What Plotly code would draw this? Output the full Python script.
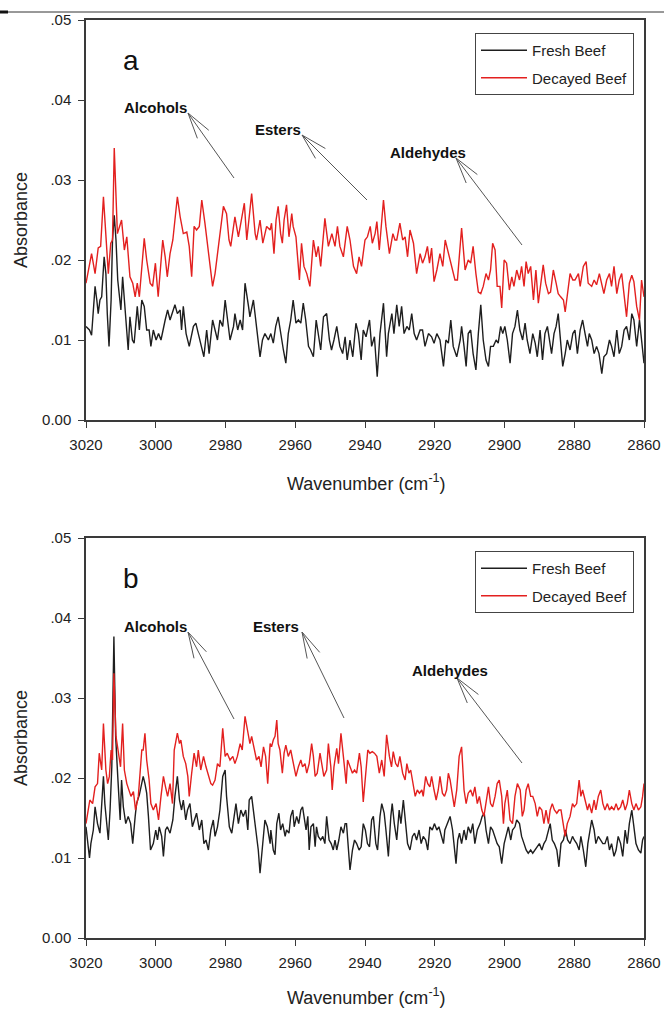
import math
import plotly.graph_objects as go

# ---------------- data ----------------
# Panel a : fresh beef
a_fresh_wn = [
    3020.0, 3019.0, 3018.4, 3017.9, 3017.4, 3016.9, 3016.5, 3016.0, 3015.5, 3014.8,
    3014.3, 3013.9, 3013.4, 3012.8, 3012.4, 3011.9, 3011.4, 3010.9, 3010.2, 3010.0,
    3009.5, 3009.0, 3008.3, 3007.9, 3007.4, 3006.7, 3006.2, 3005.3, 3004.7, 3004.0,
    3003.3, 3002.6, 3001.9, 3001.4, 3000.7, 2999.9, 2999.2, 2998.5, 2997.3, 2996.6,
    2995.9, 2994.5, 2993.8, 2993.0, 2992.6, 2992.1, 2991.3, 2990.4, 2989.2, 2988.5,
    2987.8, 2986.8, 2986.2, 2985.4, 2984.7, 2983.7, 2983.0, 2982.3, 2981.6, 2980.8,
    2980.1, 2979.2, 2978.7, 2977.7, 2977.3, 2976.5, 2975.8, 2975.1, 2974.4, 2973.4,
    2973.0, 2972.0, 2971.1, 2970.1, 2969.4, 2968.7, 2967.7,
    2967.0, 2966.3, 2965.6, 2964.9, 2964.2, 2963.4, 2962.7, 2962.0, 2961.3, 2960.6,
    2959.8, 2959.1, 2958.4, 2957.7, 2957.0, 2956.2, 2955.6, 2954.8, 2954.0, 2953.4,
    2952.7, 2951.9, 2951.0, 2950.2, 2949.6, 2948.9, 2948.1, 2947.2, 2946.4, 2945.7,
    2945.1, 2944.3, 2943.5, 2942.6, 2941.9, 2941.1, 2940.5, 2939.7, 2938.7, 2938.1,
    2937.3, 2936.5, 2935.7, 2934.7, 2933.8, 2933.3, 2932.3, 2931.7, 2930.9, 2930.2,
    2929.5, 2928.8, 2928.0, 2927.3, 2926.6, 2925.9, 2925.2, 2924.2, 2923.5, 2922.8,
    2921.8, 2920.9, 2920.2, 2919.4, 2918.5, 2917.5, 2916.8, 2916.1, 2915.4, 2914.7,
    2913.7, 2912.7,
    2912.3, 2911.6, 2911.0, 2910.4, 2909.7, 2909.0, 2908.2, 2907.5, 2906.8, 2906.1,
    2905.3, 2904.6, 2904.0, 2903.2, 2902.4, 2901.8, 2901.1, 2900.5, 2899.9, 2899.2,
    2898.4, 2897.7, 2897.0, 2896.3, 2895.6, 2894.8, 2894.1, 2893.5, 2892.7, 2891.9,
    2891.2, 2890.6, 2889.8, 2889.1, 2888.4, 2887.7, 2887.1, 2886.5, 2885.8, 2885.2,
    2884.6, 2883.9, 2883.3, 2882.6, 2882.0, 2881.2, 2880.4, 2879.8, 2879.1, 2878.3,
    2877.6, 2876.9, 2876.2, 2875.7, 2875.0, 2874.3, 2873.6, 2872.9, 2872.1, 2871.5,
    2870.7, 2869.9, 2869.3, 2868.6, 2867.8, 2867.1, 2866.4, 2865.7, 2865.0, 2864.2,
    2863.5, 2862.9, 2862.1, 2861.3, 2860.7, 2860.0,
]
a_fresh_abs = [
    .0117, .01125, .0106, .0142, .0167, .0150, .0133, .0150, .0154, .0204,
    .0183, .0133, .0092, .0150, .0225, .0256, .0225, .0175, .0142, .01375,
    .0179, .0150, .0108, .00875, .0129, .0100, .0096, .0142, .01125, .0150,
    .0142, .01125, .01125, .0092, .01125, .0100, .0108, .0100, .0125, .01375,
    .0125, .0144, .0133, .01375, .01125, .0142, .0108, .0092, .0117, .0121,
    .0108, .0092, .0079, .01125, .0083, .0125, .01125, .0100, .0125, .0117,
    .0150, .0117, .0100, .0117, .0133, .01125, .0125, .01125, .0171, .0142,
    .0129, .0150, .01125, .0079, .0100, .0108, .0100,
    .0108, .0096, .0117, .0129, .0108, .00875, .0071, .0108, .0125, .0150,
    .0121, .0125, .0121, .0146, .0125, .0092, .00875, .0079, .0125, .0108,
    .00875, .0129, .0133, .0100, .00875, .0100, .0117, .0092, .0083, .0104,
    .0075, .0100, .0079, .0121, .0108, .0075, .01125, .0104, .0125, .0092,
    .0104, .0054, .0108, .0146, .0079, .0108, .0133, .0108, .0144, .0117,
    .0142, .0108, .0117, .01125, .0133, .0108, .0100, .01125, .01125, .0092,
    .0108, .0104, .0096, .0108, .0100, .0067, .0100, .0096, .0125, .0092,
    .0079, .0100,
    .0117, .0092, .0067, .0108, .01125, .0083, .00625, .0108, .0144, .0100,
    .0075, .0067, .0092, .0092, .0100, .0096, .0117, .0108, .0117, .0100,
    .0071, .0108, .0117, .01375, .01125, .0100, .0121, .0100, .0083, .0108,
    .0096, .0079, .01125, .0075, .0108, .0117, .0100, .0083, .0108, .0117,
    .0133, .0100, .0067, .0083, .0100, .00875, .0108, .01125, .0083, .01125,
    .0125, .0108, .0092, .0108, .0100, .0083, .0092, .0083, .0058, .0079,
    .0083, .0100, .0092, .0079, .01125, .0083, .0092, .01125, .0117, .0100,
    .0133, .0125, .0092, .0125, .0100, .0071,
]

# Panel a : decayed beef
a_decay_wn = [
    3020.0, 3018.4, 3017.4, 3016.5, 3015.8, 3015.0, 3013.6, 3012.9, 3012.4, 3011.9,
    3011.0, 3009.8, 3009.0, 3008.3, 3007.4, 3006.6, 3005.9, 3005.3, 3004.7, 3004.0,
    3003.3, 3002.6, 3001.6, 3000.9, 3000.1, 2999.3, 2998.0, 2997.3, 2996.7, 2995.9,
    2995.1, 2993.8, 2993.0, 2992.1, 2991.1, 2990.4, 2989.7, 2989.0, 2988.3, 2987.5,
    2986.8, 2985.9, 2984.9, 2984.1, 2983.7, 2983.0, 2981.8, 2980.6, 2979.7, 2979.0,
    2978.5, 2977.3, 2976.3, 2974.6, 2973.9, 2972.5, 2971.5, 2971.1, 2970.1, 2969.3,
    2968.2, 2967.2,
    2966.8, 2966.1, 2965.5, 2964.9, 2964.2, 2963.7, 2963.2, 2962.5, 2961.8, 2961.0,
    2960.6, 2959.8, 2958.8, 2958.2, 2957.5, 2956.7, 2955.8, 2954.8, 2954.0, 2953.4,
    2952.7, 2951.5, 2950.5, 2949.5, 2948.6, 2947.9, 2947.2, 2946.2, 2945.1, 2944.3,
    2943.3, 2942.4, 2941.7, 2941.0, 2940.0, 2939.3, 2938.5, 2937.9, 2937.1, 2936.6,
    2935.9, 2934.7, 2934.0, 2933.0, 2932.0, 2931.4, 2930.9, 2930.0, 2929.2, 2928.5,
    2927.8, 2927.1, 2926.1, 2925.2, 2924.2, 2923.5, 2922.8, 2922.1, 2921.5, 2920.9,
    2920.2, 2919.4, 2918.5, 2917.7, 2917.0, 2916.1, 2915.1, 2914.2, 2913.5,
    2912.3, 2911.3, 2910.4, 2909.7, 2909.0, 2908.2, 2907.5, 2906.8, 2906.1, 2905.3,
    2904.6, 2904.0, 2903.4, 2902.7, 2902.1, 2901.3, 2900.8, 2900.1, 2899.4, 2898.6,
    2897.9, 2897.3, 2896.5, 2895.7, 2895.1, 2894.4, 2893.8, 2893.2, 2892.5, 2891.7,
    2891.0, 2890.3, 2889.6, 2888.9, 2888.2, 2887.4, 2886.8, 2886.0, 2885.2, 2884.6,
    2883.9, 2883.1, 2882.6, 2882.0, 2881.2, 2880.4, 2879.8, 2878.8, 2878.3, 2877.4,
    2876.6, 2876.0, 2875.0, 2874.3, 2873.6, 2872.8, 2872.1, 2871.5, 2870.7, 2869.9,
    2869.3, 2868.6, 2867.8, 2867.1, 2866.4, 2865.7, 2865.0, 2864.2, 2863.5, 2862.9,
    2862.1, 2861.3, 2860.7, 2860.0,
]
a_decay_abs = [
    .0171, .0208, .0183, .0215, .0217, .0279, .0183, .0221, .0225, .0340,
    .0233, .0250, .02125, .0229, .0179, .0171, .0154, .0171, .0154, .01875,
    .0227, .0200, .0171, .0167, .0196, .0154, .0225, .0204, .0179, .0208,
    .0225, .0279, .0254, .0233, .0235, .0217, .0179, .0242, .02375, .0242,
    .0275, .0246, .0208, .0183, .0167, .0183, .0225, .0267, .0258, .0225,
    .0217, .0254, .0229, .0271, .0225, .0283, .0233, .0225, .0250, .0221,
    .0242, .02375,
    .0246, .0208, .0250, .0267, .0233, .0221, .0250, .0269, .0229, .0258,
    .0242, .0229, .0175, .0221, .0192, .0183, .0167, .0225, .0204, .0217,
    .0192, .0252, .0217, .0233, .0217, .0242, .0217, .0204, .0242, .0225,
    .0192, .0183, .0204, .0192, .0225, .0229, .0242, .0221, .0233, .0248,
    .02125, .0275, .0242, .0208, .0233, .0225, .0225, .0246, .0225, .0229,
    .0204, .02375, .0221, .0183, .0208, .0196, .0204, .0217, .0196, .0215,
    .0173, .01875, .0208, .0192, .0225, .0208, .0192, .0175, .0175,
    .0240, .01875, .0200, .0196, .0217, .0183, .0160, .0158, .0167, .0183,
    .0175, .01875, .0221, .02125, .0167, .0167, .0140, .0200, .0196, .01625,
    .0179, .0167, .01875, .0175, .0192, .0167, .0198, .0183, .0192, .0150,
    .01875, .0146, .0167, .0194, .0171, .0158, .0160, .01875, .0171, .0158,
    .0154, .0150, .0135, .0158, .0183, .0175, .0175, .0183, .0167, .0192,
    .0198, .0171, .0167, .0175, .0169, .0183, .0167, .0158, .0175, .0183,
    .0167, .0192, .0158, .0175, .0183, .0158, .0129, .0171, .0181, .0173,
    .0142, .0125, .0175, .0154,
]

# Panel b : fresh beef
b_fresh_wn = [
    3020.0, 3019.0, 3018.6, 3017.9, 3017.4, 3016.7, 3016.0, 3015.5, 3015.0, 3014.6,
    3014.1, 3013.6, 3013.1, 3012.6, 3012.0, 3011.5, 3010.9, 3010.2, 3009.8, 3009.3,
    3008.6, 3007.9, 3007.2, 3006.6, 3005.9, 3005.5, 3004.7, 3004.0, 3003.6, 3003.1,
    3002.6, 3002.1, 3001.5, 3000.7, 3000.0, 2999.5, 2999.0, 2998.3, 2997.8, 2997.2,
    2996.7, 2995.9, 2995.1, 2994.5, 2993.8, 2993.2, 2992.6, 2992.1, 2991.4, 2990.9,
    2990.2, 2989.5, 2988.9, 2988.3, 2987.5, 2986.8, 2986.2, 2985.6, 2984.9, 2984.2,
    2983.5, 2983.0, 2982.3, 2981.6, 2980.8, 2980.1, 2979.7, 2978.9, 2978.2, 2977.6,
    2977.0, 2976.3, 2975.6, 2974.9, 2974.2, 2973.6, 2973.2, 2972.5, 2971.8, 2971.2,
    2970.6, 2970.1, 2969.4, 2968.7, 2968.0, 2967.2,
    2967.0, 2966.3, 2965.8, 2965.3, 2964.7, 2964.2, 2963.6, 2962.9, 2962.5, 2961.8,
    2961.3, 2960.7, 2960.3, 2959.6, 2959.0, 2958.4, 2957.9, 2957.4, 2956.9, 2956.4,
    2956.0, 2955.5, 2954.8, 2954.3, 2953.9, 2953.4, 2952.7, 2952.1, 2951.5, 2951.0,
    2950.3, 2949.7, 2949.1, 2948.6, 2948.1, 2947.5, 2946.9, 2946.2, 2945.7, 2945.3,
    2944.8, 2944.3, 2943.6, 2943.0, 2942.4, 2941.7, 2941.1, 2940.5, 2939.9, 2939.3,
    2938.7, 2938.1, 2937.6, 2936.9, 2936.4, 2935.7, 2935.2, 2934.5, 2934.0, 2933.3,
    2932.6, 2932.2, 2931.6, 2930.9, 2930.2, 2929.7, 2929.0, 2928.3, 2927.8, 2927.1,
    2926.4, 2925.8, 2925.2, 2924.5, 2923.9, 2923.3, 2922.6, 2922.0, 2921.4, 2920.7,
    2920.1, 2919.4, 2918.8, 2918.3, 2917.5, 2917.1, 2916.4, 2915.6, 2914.9, 2914.5,
    2913.9, 2913.4, 2912.9,
    2912.3, 2911.6, 2911.0, 2910.4, 2909.7, 2909.1, 2908.5, 2907.8, 2907.0, 2906.4,
    2905.8, 2905.3, 2904.6, 2904.0, 2903.4, 2902.7, 2902.1, 2901.5, 2900.8, 2900.1,
    2899.6, 2898.9, 2898.2, 2897.7, 2897.0, 2896.5, 2895.7, 2895.1, 2894.4, 2893.8,
    2893.2, 2892.5, 2891.9, 2891.2, 2890.6, 2890.0, 2889.3, 2888.7, 2888.1, 2887.4,
    2886.9, 2886.3, 2885.7, 2885.0, 2884.4, 2883.8, 2883.1, 2882.5, 2881.9, 2881.2,
    2880.5, 2880.0, 2879.3, 2878.6, 2878.1, 2877.4, 2876.7, 2876.1, 2875.5, 2875.0,
    2874.3, 2873.8, 2873.1, 2872.4, 2871.8, 2871.2, 2870.5, 2869.9, 2869.3, 2868.6,
    2868.0, 2867.4, 2866.7, 2866.1, 2865.4, 2864.8, 2864.2, 2863.5, 2862.9, 2862.3,
    2861.6, 2860.9, 2860.4, 2860.0,
]
b_fresh_abs = [
    .0139, .0100, .0118, .0135, .0164, .0143, .0131, .0168, .0202, .0168,
    .0143, .01225, .0160, .0214, .0377, .0252, .0202, .01475, .01975, .0164,
    .0143, .0152, .0143, .0118, .0152, .0168, .0179, .0193, .0202, .0193,
    .0181, .0152, .0110, .0118, .0135, .01225, .0139, .0127, .0102, .0135,
    .0139, .0131, .01475, .0177, .0202, .01725, .0160, .01725, .01475, .0160,
    .0168, .0139, .01475, .0156, .0135, .01475, .0118, .01225, .0110, .0135,
    .01475, .0127, .0139, .0160, .0202, .0210, .0177, .0139, .0131, .0152,
    .0168, .0143, .0160, .0152, .0160, .0135, .01725, .0177, .0152, .0135,
    .0110, .0081, .0118, .01475, .0139, .0118,
    .0135, .0110, .0104, .0143, .0156, .0135, .0143, .0127, .0135, .0131,
    .0152, .0160, .0139, .0152, .0143, .0160, .0164, .0152, .0135, .0152,
    .0110, .0139, .0143, .0114, .0139, .0127, .01225, .0127, .0118, .0152,
    .01225, .0118, .0110, .01225, .0110, .01225, .0139, .0131, .0143, .0143,
    .0118, .0085, .0110, .01225, .0118, .0110, .0114, .0143, .0135, .0118,
    .0114, .01475, .0152, .0118, .0110, .0152, .0168, .0156, .0135, .0102,
    .0152, .0168, .0143, .01225, .0160, .0143, .01725, .0143, .0118, .0110,
    .0127, .0131, .01225, .0135, .0118, .0127, .01225, .0110, .0139, .0135,
    .0143, .0135, .0139, .0131, .0118, .0135, .0143, .0152, .0135, .0118,
    .0093, .01225, .0131,
    .0118, .0135, .01225, .0139, .0131, .0143, .0118, .0135, .0143, .0152,
    .0156, .0135, .0118, .0139, .0135, .0127, .0118, .0114, .0093, .0118,
    .0127, .0139, .01225, .0135, .0139, .01475, .0143, .0127, .0118, .0110,
    .0106, .0110, .0106, .0110, .0114, .0118, .0110, .0118, .01225, .0135,
    .0143, .01225, .0118, .0110, .0089, .0118, .01225, .0135, .01225, .0118,
    .0127, .01225, .0118, .0110, .0127, .0110, .0089, .0118, .0135, .01475,
    .0135, .0118, .0127, .01225, .0118, .0118, .0127, .0110, .0118, .0102,
    .0110, .0127, .0118, .0102, .0135, .0118, .0143, .0160, .0139, .0118,
    .0110, .0106, .01225, .0127,
]

# Panel b : decayed beef
b_decay_wn = [
    3020.0, 3018.9, 3018.1, 3017.4, 3016.7, 3016.2, 3015.5, 3015.0, 3014.3, 3013.8,
    3013.3, 3012.8, 3012.4, 3012.0, 3011.4, 3010.7, 3010.1, 3009.5, 3009.0, 3008.3,
    3007.7, 3007.1, 3006.4, 3005.8, 3005.0, 3004.0, 3003.6, 3003.1, 3002.6, 3001.9,
    3001.4, 3000.7, 2999.9, 2999.2, 2998.5, 2997.8, 2997.2, 2996.6, 2995.9, 2995.2,
    2994.7, 2993.8, 2993.2, 2992.8, 2992.1, 2991.4, 2990.8, 2990.4, 2989.7, 2989.0,
    2988.3, 2987.8, 2987.1, 2986.3, 2985.6, 2984.9, 2984.2, 2983.7, 2983.0, 2982.3,
    2981.6, 2980.8, 2980.1, 2979.5, 2978.7, 2977.9, 2977.3, 2976.6, 2975.8, 2975.2,
    2974.4, 2973.7, 2973.0, 2972.5, 2971.8, 2971.1, 2970.4, 2969.8, 2969.1, 2968.5,
    2967.9, 2967.2,
    2966.8, 2966.3, 2965.8, 2965.3, 2964.9, 2964.4, 2963.7, 2963.2, 2962.7, 2962.0,
    2961.3, 2960.6, 2959.8, 2959.1, 2958.4, 2957.9, 2957.2, 2956.7, 2956.0, 2955.3,
    2954.8, 2954.3, 2953.7, 2952.9, 2952.4, 2951.8, 2951.0, 2950.5, 2949.8, 2949.4,
    2948.9, 2948.1, 2947.6, 2946.9, 2946.2, 2945.4, 2945.0, 2944.3, 2943.6, 2943.0,
    2942.4, 2941.6, 2941.1, 2940.5, 2939.8, 2939.2, 2938.6, 2937.9, 2937.3, 2936.6,
    2935.9, 2935.2, 2934.5, 2933.8, 2933.0, 2932.4, 2931.9, 2931.2, 2930.6, 2930.0,
    2929.2, 2928.5, 2928.0, 2927.4, 2926.9, 2926.1, 2925.6, 2925.0, 2924.4, 2923.7,
    2923.3, 2922.6, 2922.0, 2921.4, 2920.9, 2920.2, 2919.6, 2919.0, 2918.5, 2917.8,
    2917.2, 2916.6, 2916.1, 2915.6, 2914.9, 2914.4, 2913.7, 2913.0,
    2912.3, 2911.6, 2911.0, 2910.4, 2909.7, 2909.1, 2908.5, 2907.8, 2907.2, 2906.5,
    2905.9, 2905.3, 2904.6, 2904.0, 2903.4, 2902.7, 2902.1, 2901.5, 2900.8, 2900.3,
    2899.9, 2899.2, 2898.4, 2897.7, 2897.0, 2896.3, 2895.5, 2894.9, 2894.4, 2893.8,
    2893.2, 2892.5, 2891.9, 2891.2, 2890.6, 2890.0, 2889.3, 2888.7, 2888.1, 2887.4,
    2886.9, 2886.3, 2885.7, 2885.0, 2884.4, 2883.8, 2883.1, 2882.6, 2882.0, 2881.2,
    2880.5, 2880.0, 2879.3, 2878.6, 2878.1, 2877.6, 2876.9, 2876.2, 2875.7, 2875.0,
    2874.3, 2873.8, 2873.1, 2872.4, 2871.8, 2871.2, 2870.5, 2869.9, 2869.3, 2868.6,
    2868.0, 2867.4, 2866.7, 2866.1, 2865.4, 2864.8, 2864.2, 2863.5, 2862.9, 2862.3,
    2861.6, 2860.9, 2860.4, 2860.0,
]
b_decay_abs = [
    .0143, .01725, .0168, .0189, .0193, .0231, .0210, .0268, .0210, .0193,
    .0202, .0235, .02225, .0331, .0252, .0231, .0214, .0268, .0210, .0193,
    .0185, .0177, .0183, .0160, .0177, .0235, .0235, .0256, .02225, .01975,
    .0168, .0160, .0168, .01475, .0177, .0202, .0189, .0177, .0193, .0168,
    .0235, .0256, .0243, .02475, .0227, .0218, .0202, .0177, .0206, .0231,
    .0214, .0235, .0210, .0227, .0214, .0202, .0193, .0191, .01975, .0218,
    .0214, .0262, .0227, .0231, .02225, .0227, .0218, .0227, .0243, .0235,
    .0277, .0260, .0243, .0252, .0235, .02225, .0227, .0214, .0239, .0227,
    .0193, .0243,
    .0239, .02475, .0252, .02725, .0243, .0235, .0206, .0231, .0241, .0227,
    .0235, .0218, .0202, .0214, .02225, .0214, .0218, .0206, .0218, .0243,
    .0227, .0202, .0206, .0231, .0218, .0202, .0210, .0243, .0214, .0185,
    .0214, .0237, .0218, .0256, .0227, .0193, .02225, .0214, .0206, .0210,
    .0206, .0231, .0214, .0170, .0210, .0235, .0231, .0233, .0231, .0227,
    .0206, .02225, .0202, .0254, .0227, .0214, .0233, .0218, .0214, .0227,
    .0206, .01975, .0218, .0206, .0210, .0189, .0177, .0185, .0181, .0185,
    .0177, .0202, .0193, .0189, .0202, .0185, .01725, .0185, .0202, .0181,
    .0177, .0185, .0206, .01975, .0177, .0164, .0185, .0227,
    .0239, .0185, .0168, .0181, .0185, .0177, .0189, .0168, .0177, .0160,
    .0152, .01725, .0189, .0168, .0164, .0177, .0193, .01975, .0177, .0143,
    .0168, .0185, .01475, .0143, .0177, .0193, .0185, .0152, .0160, .0185,
    .0193, .0177, .0177, .0168, .0152, .0164, .0160, .0143, .0160, .0143,
    .0160, .0168, .0160, .0156, .0160, .0160, .0139, .0127, .0143, .0152,
    .0168, .0164, .0168, .01975, .0177, .0185, .01725, .0160, .0168, .0156,
    .01725, .0160, .0177, .0185, .0168, .0160, .0168, .0160, .0164, .0160,
    .0168, .0160, .0164, .01725, .0160, .0168, .0185, .0168, .0160, .0168,
    .0160, .0164, .0177, .0193,
]

series_names = ["Fresh Beef", "Decayed Beef"]
x_ticks = [3020, 3000, 2980, 2960, 2940, 2920, 2900, 2880, 2860]
y_ticks = [0.0, 0.01, 0.02, 0.03, 0.04, 0.05]
y_ticktext = ["0.00", ".01", ".02", ".03", ".04", ".05"]
panel_labels = ["a", "b"]
band_labels = ["Alcohols", "Esters", "Aldehydes"]

for nm, xs, ys in [("a_fresh", a_fresh_wn, a_fresh_abs), ("a_decay", a_decay_wn, a_decay_abs),
                   ("b_fresh", b_fresh_wn, b_fresh_abs), ("b_decay", b_decay_wn, b_decay_abs)]:
    if len(xs) != len(ys):
        raise ValueError(f"{nm}: {len(xs)} x vs {len(ys)} y")

# ---------------- layout geometry (pixels) ----------------
W, H = 664, 1009
PL, PR = 86, 644
PANELS = [(20, 420), (538, 938)]  # (top, bottom) of each plot area
XTITLE_Y = [483, 996]

def px(x, y):
    return x / W, 1 - y / H

FRESH_C = "#1e1e1e"
DECAY_C = "#e3201f"
AXIS_C = "#3a3a3a"
TXT_C = "#222222"
FONT = "Liberation Sans, Arial, sans-serif"

fig = go.Figure()
data_sets = [
    (a_fresh_wn, a_fresh_abs, a_decay_wn, a_decay_abs),
    (b_fresh_wn, b_fresh_abs, b_decay_wn, b_decay_abs),
]
for i, (fx, fy, dx, dy) in enumerate(data_sets):
    xa = "x" if i == 0 else "x2"
    ya = "y" if i == 0 else "y2"
    lg = "legend" if i == 0 else "legend2"
    fig.add_trace(go.Scatter(x=fx, y=fy, mode="lines", name=series_names[0],
                             legendgroup=f"f{i}",
                             line=dict(color=FRESH_C, width=1.4), xaxis=xa, yaxis=ya, legend=lg))
    fig.add_trace(go.Scatter(x=dx, y=dy, mode="lines", name=series_names[1],
                             legendgroup=f"d{i}",
                             line=dict(color=DECAY_C, width=1.4), xaxis=xa, yaxis=ya, legend=lg))

axis_common = dict(showline=True, linecolor=AXIS_C, linewidth=1.5, mirror=True,
                   ticks="outside", ticklen=6, tickwidth=1.3, tickcolor=AXIS_C,
                   showgrid=False, zeroline=False, automargin=False,
                   tickfont=dict(family=FONT, size=15, color=TXT_C))

layout = dict(width=W, height=H, margin=dict(l=0, r=0, t=0, b=0, pad=0, autoexpand=False),
              paper_bgcolor="white", plot_bgcolor="white", showlegend=True)
for i, (top, bot) in enumerate(PANELS):
    sfx = "" if i == 0 else "2"
    layout["xaxis" + sfx] = dict(axis_common, domain=[PL / W, PR / W], range=[3020, 2860],
                                 tickvals=x_ticks, anchor="y" + sfx, ticklabelstandoff=4)
    layout["yaxis" + sfx] = dict(axis_common, domain=[1 - bot / H, 1 - top / H], range=[0, 0.05],
                                 tickvals=y_ticks, ticktext=y_ticktext, anchor="x" + sfx,
                                 ticklabelstandoff=4)
    lx, ly = px(634, top + 13)
    layout["legend" + sfx] = dict(x=lx, y=ly, xanchor="right", yanchor="top",
                                  bordercolor="#444444", borderwidth=1, bgcolor="white",
                                  font=dict(family=FONT, size=15, color=TXT_C),
                                  itemwidth=46, traceorder="grouped", tracegroupgap=5)
fig.update_layout(**layout)

annotations = []
shapes = []

def text_ann(text, cx, cy, size, color=TXT_C, angle=0):
    x, y = px(cx, cy)
    return dict(text=text, x=x, y=y, xref="paper", yref="paper", xanchor="center",
                yanchor="middle", textangle=angle, showarrow=False,
                font=dict(family=FONT, size=size, color=color))

# axis titles
for (top, bot), ty in zip(PANELS, XTITLE_Y):
    annotations.append(text_ann("Absorbance", 21, (top + bot) / 2, 18, angle=-90))
    annotations.append(text_ann("Wavenumber (cm<sup>-1</sup>)", 366, ty, 18))

# panel letters
for lab, (top, bot) in zip(panel_labels, PANELS):
    annotations.append(text_ann(lab, 131, top + 40, 28, color="#111111"))

# band labels and arrows: (label centre px, arrow tip px, arrow tail px)
band_pos = [
    [((155, 107), (188, 113), (234, 178)),
     ((278, 129), (302, 135), (367, 200)),
     ((428, 152), (456, 158), (522, 245))],
    [((155, 626), (188, 632), (234, 719)),
     ((276, 626), (302, 632), (344, 718)),
     ((450, 670), (457, 678), (522, 763))],
]
ARROW_C = "#555555"
for panel in band_pos:
    for lab, (cpos, tip, tail) in zip(band_labels, panel):
        annotations.append(text_ann("<b>" + lab + "</b>", cpos[0], cpos[1], 15, color="#111111"))
        x0, y0 = px(*tip)
        x1, y1 = px(*tail)
        shapes.append(dict(type="line", xref="paper", yref="paper", x0=x0, y0=y0, x1=x1, y1=y1,
                           line=dict(color=ARROW_C, width=1)))
        dxp, dyp = tail[0] - tip[0], tail[1] - tip[1]
        L = math.hypot(dxp, dyp)
        ux, uy = dxp / L, dyp / L
        for sgn in (1, -1):
            ang = math.radians(15) * sgn
            bx = ux * math.cos(ang) - uy * math.sin(ang)
            by = ux * math.sin(ang) + uy * math.cos(ang)
            ex, ey = px(tip[0] + 27 * bx, tip[1] + 27 * by)
            shapes.append(dict(type="line", xref="paper", yref="paper", x0=x0, y0=y0, x1=ex, y1=ey,
                               line=dict(color=ARROW_C, width=1)))

# rule at the very top of the page
ry = 1 - 12 / H
shapes.append(dict(type="line", xref="paper", yref="paper", x0=0, x1=1, y0=ry, y1=ry,
                   line=dict(color="#333333", width=1)))
shapes.append(dict(type="line", xref="paper", yref="paper", x0=0, x1=8 / W, y0=ry, y1=ry,
                   line=dict(color="#111111", width=3)))

fig.update_layout(annotations=annotations, shapes=shapes)
fig.write_html("out.html", config={"displayModeBar": False})
